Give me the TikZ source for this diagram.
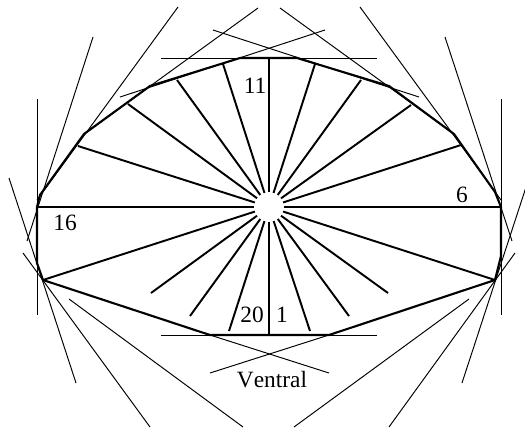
\documentclass[tikz,border=0pt]{standalone}
\usepackage{fontspec}
\setmainfont{Liberation Serif}
\usetikzlibrary{calc}
\tikzset{
  outline/.style={line width=1.2pt,line join=round},
  spoke/.style={line width=1.1pt},
  tangent/.style={line width=0.55pt},
  numlabel/.style={font=\fontsize{13.3}{13.3}\selectfont,text=black,inner sep=0pt}
}

\begin{document}
\begin{tikzpicture}[x=0.02cm,y=-0.02cm]
        \useasboundingbox (0,0) rectangle (525,427);
        \begin{scope}
          \clip (0,0) rectangle (525,427);
          % tangent lines
          \foreach \xa/\ya/\xb/\yb in {37/99/37/315,501/99/501/315,161/58/377/58,161/335/377/335,
            93/37/27/241,445/37/512/241,9/178/76/383,529/178/462/383,
            178/7/37/200,360/7/501/200,258/8/84/134,280/8/454/134,
            120/97/325/30,213/30/419/97,23/253/150/427,515/253/389/427,
            69/299/243/427,469/299/294/427,210/335/329/373,329/335/210/373}
            \draw[tangent] (\xa,\ya) -- (\xb,\yb);
        \end{scope}
        % outline
        \draw[outline] (37,207) -- (40,195) -- (84,134) -- (150,86) -- (240,58) -- (297,58)
          -- (389,86) -- (454,134) -- (495,192) -- (501,207) -- (501,256) -- (495,280)
          -- (329,335) -- (210,335) -- (43,280) -- (37,263) -- cycle;
        % spokes
        \node[circle,minimum size=0.58cm,inner sep=0pt] (hub) at (269,207) {};
        \foreach \xs/\ys in {37/207,78/146,128/104,177/80,223/64,269/58,315/64,361/80,411/105,461/145,
            501/207,495/280,388/293,349/316,310/331,269/335,229/331,190/316,151/293,43/280}
          \draw[spoke] (hub) -- (\xs,\ys);
        % labels
        \node[numlabel] (n11) at (255,86) {11};
        \node[numlabel] (n6) at (462,195) {6};
        \node[numlabel] (n16) at (65,223) {16};
        \node[numlabel] (n20) at (252,315) {20};
        \node[numlabel] (n1) at (282,315) {1};
        \node[numlabel] (ventral) at (272,380) {\addfontfeature{Kerning=Off}Ventral};
\end{tikzpicture}
\end{document}
